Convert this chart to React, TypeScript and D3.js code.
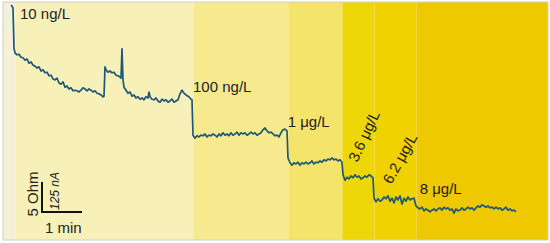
import { useEffect, useRef } from 'react'
import * as d3 from 'd3'

// recording: time in seconds, resistance change in Ohm
const timeSec = [
  0, 1.5, 3, 4.5, 6, 9, 12, 15, 18, 21, 24, 27, 30, 33, 36, 39, 42, 45, 48, 51, 54, 57, 60, 63, 66, 69, 72, 75, 78,
  81, 84, 87, 90, 93, 96, 99, 102, 105, 108, 111, 114, 117, 120, 123, 126, 129, 132, 135, 138, 139.5, 141, 142.5,
  145.5, 148.5, 151.5, 154.5, 157.5, 160.5, 163.5, 165, 166.5, 168, 169.5, 172.5, 175.5, 178.5, 181.5, 184.5, 187.5,
  190.5, 193.5, 196.5, 199.5, 202.5, 205.5, 207, 208.5, 211.5, 214.5, 217.5, 220.5, 223.5, 226.5, 229.5, 232.5,
  235.5, 238.5, 241.5, 244.5, 247.5, 250.5, 253.5, 256.5, 259.5, 262.5, 265.5, 268.5, 270, 271.5,
  273, 276, 279, 282, 285, 288, 291, 294, 297, 300, 303, 306, 309, 312, 315, 318, 321, 324, 327, 330, 333, 336, 339,
  342, 345, 348, 351, 354, 357, 360, 363, 366, 369, 372, 375, 378, 381, 384, 387, 390, 393, 396, 399, 402, 405, 408,
  411, 414,
  415.5, 418.5, 421.5, 424.5, 427.5, 430.5, 433.5, 436.5, 439.5, 442.5, 445.5, 448.5, 451.5, 454.5, 457.5, 460.5,
  463.5, 466.5, 469.5, 472.5, 475.5, 478.5, 481.5, 484.5, 487.5, 490.5, 493.5, 496.5,
  498, 501, 504, 507, 510, 513, 516, 519, 522, 525, 528, 531, 534, 537, 540, 543,
  544.5, 547.5, 550.5, 553.5, 556.5, 559.5, 562.5, 565.5, 568.5, 571.5, 574.5, 577.5, 580.5, 583.5, 586.5, 589.5,
  592.5, 595.5, 598.5, 601.5, 604.5,
  607.5, 610.5, 613.5, 616.5, 619.5, 622.5, 625.5, 628.5, 631.5, 634.5, 637.5, 640.5, 643.5, 646.5, 649.5, 652.5,
  655.5, 658.5, 661.5, 664.5, 667.5, 670.5, 673.5, 676.5, 679.5, 682.5, 685.5, 688.5, 691.5, 694.5, 697.5, 700.5,
  703.5, 706.5, 709.5, 712.5, 715.5, 718.5, 721.5, 724.5, 727.5, 730.5, 733.5, 736.5, 739.5, 742.5, 745.5, 748.5,
  751.5, 754.5, 757.5,
]
const deltaOhm = [
  0, -0.2, -0.5, -7.2, -8.0, -8.3, -8.2, -8.7, -8.8, -9.2, -9.0, -9.7, -9.5, -10.0, -10.2, -10.5, -10.3, -11.0,
  -10.8, -11.3, -11.2, -11.8, -11.7, -12.3, -12.5, -12.2, -13.0, -13.2, -12.8, -13.7, -13.5, -14.0, -13.8, -14.3,
  -14.2, -14.3, -14.5, -14.2, -13.8, -14.0, -14.3, -14.0, -14.2, -14.5, -14.3, -14.7, -14.8, -15.0, -15.3, -15.2,
  -10.3, -10.8, -11.2, -11.0, -11.3, -11.2, -11.7, -11.8, -12.0, -12.2, -7.3, -12.5, -13.7, -14.2, -14.7, -14.5,
  -15.2, -15.0, -15.5, -15.3, -15.7, -15.5, -15.8, -15.3, -15.5, -14.5, -15.3, -15.7, -15.8, -15.5, -16.0, -16.2,
  -15.7, -16.0, -15.8, -16.2, -16.0, -15.7, -16.2, -16.0, -15.8, -14.8, -14.2, -14.7, -15.0, -15.2, -15.5, -15.7,
  -15.8,
  -21.7, -22.2, -21.8, -22.0, -21.7, -21.8, -21.5, -22.0, -21.7, -21.8, -21.5, -21.7, -22.0, -21.5, -21.8, -21.3,
  -21.7, -21.5, -21.8, -21.3, -21.7, -21.5, -21.2, -21.7, -21.3, -21.5, -21.3, -21.7, -21.5, -21.2, -21.5, -21.3,
  -21.7, -21.5, -21.3, -20.8, -20.5, -21.0, -21.3, -21.2, -21.5, -21.8, -21.7, -22.0, -21.3, -20.8, -20.7, -21.0,
  -25.5, -26.3, -26.7, -26.3, -26.5, -26.2, -26.7, -26.3, -26.5, -26.2, -26.5, -26.3, -26.0, -26.5, -26.2, -26.3,
  -26.0, -26.2, -25.8, -26.0, -25.7, -25.8, -25.5, -25.8, -25.7, -26.0, -25.8, -26.2,
  -28.3, -29.2, -28.7, -29.0, -28.5, -28.8, -28.3, -28.7, -28.5, -29.0, -28.8, -28.5, -28.7, -28.3, -28.5, -28.8,
  -32.2, -32.8, -32.3, -32.7, -32.5, -32.0, -32.3, -31.8, -32.7, -32.2, -33.0, -32.0, -32.5, -31.8, -33.2, -32.2,
  -32.7, -32.0, -32.5, -32.3, -32.2,
  -33.5, -33.8, -34.0, -33.7, -34.3, -34.0, -34.2, -34.5, -34.2, -34.0, -34.3, -34.0, -33.8, -34.2, -33.7, -34.0,
  -33.8, -34.2, -34.0, -34.7, -34.0, -34.3, -34.2, -33.8, -34.2, -34.0, -33.7, -34.0, -33.8, -34.2, -33.8, -33.5,
  -33.7, -33.3, -33.5, -33.7, -33.5, -33.8, -33.7, -34.0, -33.7, -34.0, -33.8, -34.2, -34.0, -33.7, -34.2, -34.0,
  -34.3, -34.2, -34.5,
]

// injections
const concLabels = ['10 ng/L', '100 ng/L', '1 μg/L', '3.6 μg/L', '6.2 μg/L', '8 μg/L']
const injectTime = [6, 273, 415, 497, 545, 607]
const bandColors = ['#f5f1d9', '#f7f0b8', '#f7ea8e', '#f5e46c', '#eed708', '#f0d200', '#eec800']

export default function App() {
  const svgRef = useRef<SVGSVGElement | null>(null)

  useEffect(() => {
    if (!svgRef.current) return
    const width = 550
    const height = 243
    const left = 3
    const right = 548
    const top = 2
    const bottom = 240

    const svg = d3.select(svgRef.current)
    svg.selectAll('*').remove()
    svg.attr('width', width).attr('height', height)

    const x = d3.scaleLinear().domain([-12, 805.5]).range([left, right])
    const y = d3.scaleLinear().domain([0.5, -39.17]).range([top, bottom])

    // concentration bands
    const edges = [-12, ...injectTime, 805.5]
    bandColors.forEach((c, i) => {
      svg
        .append('rect')
        .attr('x', Math.round(x(edges[i])))
        .attr('y', top)
        .attr('width', Math.round(x(edges[i + 1])) - Math.round(x(edges[i])))
        .attr('height', bottom - top)
        .attr('fill', c)
    })
    // faint separators between bands
    injectTime.forEach(t => {
      svg
        .append('line')
        .attr('x1', Math.round(x(t)) + 0.5)
        .attr('x2', Math.round(x(t)) + 0.5)
        .attr('y1', top)
        .attr('y2', bottom)
        .attr('stroke', 'rgba(255,255,255,0.25)')
        .attr('stroke-width', 1)
    })

    svg
      .append('rect')
      .attr('x', left)
      .attr('y', top)
      .attr('width', right - left)
      .attr('height', bottom - top)
      .attr('fill', 'none')
      .attr('stroke', '#d4d0c4')
      .attr('stroke-width', 1)

    const data = timeSec.map((t, i) => [t, deltaOhm[i]] as [number, number])
    const line = d3
      .line<[number, number]>()
      .x(d => x(d[0]))
      .y(d => y(d[1]))

    svg
      .append('path')
      .datum(data)
      .attr('d', line)
      .attr('fill', 'none')
      .attr('stroke', '#1d5878')
      .attr('stroke-width', 1.7)
      .attr('stroke-linejoin', 'round')

    // labels
    const font = "'Liberation Sans', Arial, sans-serif"
    const labelPos = [
      { dx: 5, y: 19, rot: 0 },
      { dx: 0, y: 92, rot: 0 },
      { dx: 0, y: 127, rot: 0 },
      { dx: 15, y: 163, rot: -65 },
      { dx: 17, y: 185, rot: -61 },
      { dx: 4, y: 194, rot: 0 },
    ]
    concLabels.forEach((lab, i) => {
      const p = labelPos[i]
      const lx = x(injectTime[i]) + p.dx
      svg
        .append('text')
        .attr('transform', `translate(${lx},${p.y}) rotate(${p.rot})`)
        .style('font-family', font)
        .style('font-size', '15px')
        .style('fill', '#222')
        .text(lab)
    })

    // scale bar
    const sx = 42
    const sy = 212
    svg
      .append('path')
      .attr('d', `M${sx},${sy - (y(-5) - y(0))}V${sy}H${sx + (x(60) - x(0))}`)
      .attr('stroke', '#111')
      .attr('stroke-width', 2)
      .attr('fill', 'none')

    svg
      .append('text')
      .attr('transform', `translate(38,194) rotate(-90)`)
      .attr('text-anchor', 'middle')
      .style('font-family', font)
      .style('font-size', '15px')
      .style('fill', '#222')
      .text('5 Ohm')

    svg
      .append('text')
      .attr('transform', `translate(59,191) rotate(-90)`)
      .attr('text-anchor', 'middle')
      .style('font-family', font)
      .style('font-size', '12px')
      .style('font-style', 'italic')
      .style('fill', '#222')
      .text('125 nA')

    svg
      .append('text')
      .attr('x', 45)
      .attr('y', 233)
      .style('font-family', font)
      .style('font-size', '15px')
      .style('fill', '#222')
      .text('1 min')
  }, [])

  return (
    <div style={{ position: 'fixed', left: 0, top: 0 }}>
      <svg ref={svgRef} style={{ display: 'block' }}></svg>
    </div>
  )
}
